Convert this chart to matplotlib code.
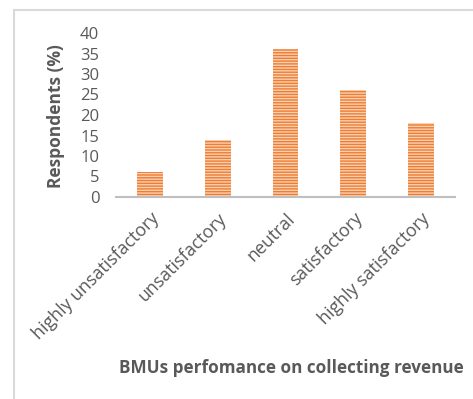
import matplotlib.pyplot as plt
from matplotlib.lines import Line2D

# survey responses
categories = ['highly unsatisfactory', 'unsatisfactory', 'neutral',
              'satisfactory', 'highly satisfactory']
respondents = [6, 14, 36, 26, 18]
yticks = [0, 5, 10, 15, 20, 25, 30, 35, 40]

plt.rcParams['font.family'] = ['Open Sans', 'DejaVu Sans']
plt.rcParams['hatch.linewidth'] = 1.0

grey = '#595959'

fig = plt.figure(figsize=(4.73, 3.99), dpi=100)
ax = fig.add_axes([116 / 473, 1 - 197 / 399, (455 - 116) / 473, (197 - 33) / 399])

ax.bar(range(len(categories)), respondents, width=0.38,
       color='#ED7D31', edgecolor='#FAD0B4', linewidth=0, hatch='------')

ax.set_xlim(-0.5, len(categories) - 0.5)
ax.set_ylim(0, 40)
ax.set_yticks(yticks)
ax.set_xticks(range(len(categories)))
ax.set_xticklabels(categories, rotation=45, ha='right', va='top',
                   rotation_mode='anchor')

for s in ['top', 'right', 'left']:
    ax.spines[s].set_visible(False)
ax.spines['bottom'].set_color('#BFBFBF')
ax.spines['bottom'].set_linewidth(1.5)
ax.tick_params(axis='both', length=0, labelcolor=grey)
ax.tick_params(axis='y', pad=12, labelsize=12)
ax.tick_params(axis='x', pad=9, labelsize=12.8)

ax.set_ylabel('Respondents (%)', fontsize=12.5, fontweight='bold', color=grey)
ax.yaxis.set_label_coords(-0.15, 0.494)
fig.text(0.615, 1 - 368 / 399, 'BMUs perfomance on collecting revenue',
         ha='center', va='center', fontsize=12.3, fontweight='bold', color=grey)

# outer chart border (top and left edges)
fig.add_artist(Line2D([14 / 473, 14 / 473], [0, 1 - 10 / 399],
                      transform=fig.transFigure, color='#D9D9D9', lw=1.5))
fig.add_artist(Line2D([14 / 473, 1], [1 - 10 / 399, 1 - 10 / 399],
                      transform=fig.transFigure, color='#D9D9D9', lw=1.5))

fig.savefig('out.png', dpi=100)
